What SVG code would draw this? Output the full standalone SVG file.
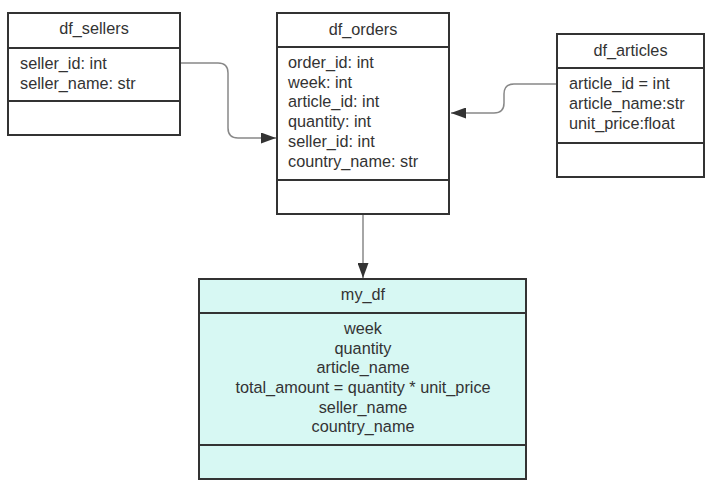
<svg xmlns="http://www.w3.org/2000/svg" width="724" height="492" viewBox="0 0 724 492">
<style>
.box{fill:#ffffff;stroke:#333333;stroke-width:2}
.fill{fill:#d7f8f3}
.div{stroke:#333333;stroke-width:2}
text{font-family:"Liberation Sans",Arial,sans-serif;font-size:16.25px;fill:#333333}
.c{text-anchor:middle}
.conn{fill:none;stroke:#888888;stroke-width:1.5}
</style>
<defs>
<marker id="arr" markerUnits="userSpaceOnUse" markerWidth="15" markerHeight="11" refX="15" refY="5.5" orient="auto">
<path d="M0,0 L15,5.5 L0,11 z" fill="#333333"/>
</marker>
</defs>
<rect width="724" height="492" fill="#ffffff"/>
<g id="connectors">
<path class="conn" d="M180,63 H218 Q228,63 228,73 V128 Q228,138 238,138 H276" marker-end="url(#arr)"/>
<path class="conn" d="M556,84 H514 Q504,84 504,94 V103 Q504,113 494,113 H451" marker-end="url(#arr)"/>
<path class="conn" d="M363,214 V278" marker-end="url(#arr)"/>
</g>
<g id="df_sellers">
<rect class="box" x="8" y="13" width="172" height="122"/>
<line class="div" x1="8" y1="48" x2="180" y2="48"/>
<line class="div" x1="8" y1="101" x2="180" y2="101"/>
<text class="c" x="94" y="34">df_sellers</text>
<text x="20" y="69">seller_id: int</text>
<text x="20" y="88.5">seller_name: str</text>
</g>
<g id="df_orders">
<rect class="box" x="277" y="13" width="172" height="201"/>
<line class="div" x1="277" y1="47" x2="449" y2="47"/>
<line class="div" x1="277" y1="180" x2="449" y2="180"/>
<text class="c" x="363" y="35">df_orders</text>
<text x="288" y="68">order_id: int</text>
<text x="288" y="87.7">week: int</text>
<text x="288" y="107.4">article_id: int</text>
<text x="288" y="127">quantity: int</text>
<text x="288" y="146.8">seller_id: int</text>
<text x="288" y="166.5">country_name: str</text>
</g>
<g id="df_articles">
<rect class="box" x="557" y="34" width="147" height="143"/>
<line class="div" x1="557" y1="68" x2="704" y2="68"/>
<line class="div" x1="557" y1="143" x2="704" y2="143"/>
<text class="c" x="630.5" y="56">df_articles</text>
<text x="569" y="89">article_id = int</text>
<text x="569" y="109">article_name:str</text>
<text x="569" y="129">unit_price:float</text>
</g>
<g id="my_df">
<rect class="box fill" x="199" y="279" width="327" height="200"/>
<line class="div" x1="199" y1="313" x2="526" y2="313"/>
<line class="div" x1="199" y1="445" x2="526" y2="445"/>
<text class="c" x="363" y="300">my_df</text>
<text class="c" x="363" y="334">week</text>
<text class="c" x="363" y="353.5">quantity</text>
<text class="c" x="363" y="373">article_name</text>
<text class="c" x="363" y="393">total_amount = quantity * unit_price</text>
<text class="c" x="363" y="412.5">seller_name</text>
<text class="c" x="363" y="432">country_name</text>
</g>
</svg>
